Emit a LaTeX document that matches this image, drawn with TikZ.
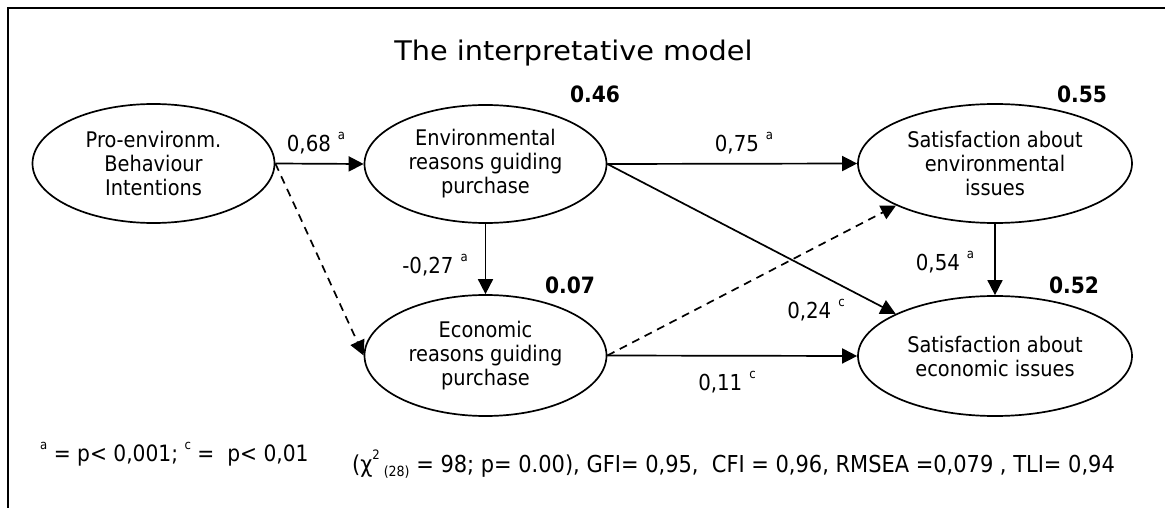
\documentclass[tikz,border=0pt]{standalone}
\usepackage{fontspec}
\setmainfont{DejaVu Sans Condensed}
\newfontfamily\titlefont{DejaVu Sans}
\usepackage{graphicx}
\usetikzlibrary{shapes.geometric,arrows.meta}
\newcommand\sps[1]{\raisebox{0.55em}{\fontsize{13}{13}\selectfont #1}}
\newcommand\sbs[1]{\raisebox{-0.15em}{\fontsize{14}{14}\selectfont #1}}
\begin{document}
\begin{tikzpicture}[x=1pt,y=-1pt,
  latent/.style={ellipse,draw,line width=1.7pt,inner sep=0pt,align=center,
    font=\fontsize{21.5}{24}\selectfont},
  path/.style={line width=1.7pt,-{Triangle[length=15pt,width=15pt]}},
  dpath/.style={path,dash pattern=on 8pt off 6pt},
  lab/.style={font=\fontsize{22}{24}\selectfont,inner sep=0pt},
  rsq/.style={font=\fontsize{22.5}{24}\selectfont\bfseries,inner sep=0pt},
  note/.style={font=\fontsize{22.5}{24}\selectfont,inner sep=0pt},
  frame/.style={line width=2pt}]
\useasboundingbox (0,0) rectangle (1165,508);
\draw[frame] (7.5,508) -- (7.5,8) -- (1166,8);

\node[inner sep=0pt,anchor=base] (title) at (573.5,61)
  {\scalebox{1.065}[1]{\titlefont\fontsize{27}{30}\selectfont The interpretative model}};

\node[latent,minimum width=242pt,minimum height=119pt] (pro) at (153.5,163.5)
  {Pro-environm.\\Behaviour\\Intentions};
\node[latent,minimum width=242pt,minimum height=118pt] (env) at (485.5,164)
  {Environmental\\reasons guiding\\purchase};
\node[latent,minimum width=242pt,minimum height=121pt] (eco) at (485.5,355.5)
  {Economic\\reasons guiding\\purchase};
\node[latent,minimum width=274pt,minimum height=119pt] (senv) at (995,163.5)
  {Satisfaction about\\environmental\\issues};
\node[latent,minimum width=274pt,minimum height=120pt] (seco) at (995,356)
  {Satisfaction about\\economic issues};

\node[rsq] (r1) at (595,94) {0.46};
\node[rsq] (r2) at (1082,94) {0.55};
\node[rsq] (r3) at (570,285) {0.07};
\node[rsq] (r4) at (1074,285) {0.52};

\draw[path] (pro.east) -- (env.west);
\draw[dpath] (pro.east) -- (eco.west);
\draw[path] (env.south) -- (eco.north);
\draw[path] (env.east) -- (senv.west);
\draw[path] (env.east) -- (seco.157);
\draw[dpath] (eco.east) -- (senv.203);
\draw[path] (eco.east) -- (seco.west);
\draw[path] (senv.south) -- (seco.north);

\node[lab] (l1) at (316,143) {0,68\hspace{7pt}\sps{a}};
\node[lab] (l2) at (744,143) {0,75\hspace{7pt}\sps{a}};
\node[lab] (l3) at (435,265) {-0,27\hspace{7pt}\sps{a}};
\node[lab] (l4) at (945,262) {0,54\hspace{7pt}\sps{a}};
\node[lab] (l5) at (816,310) {0,24\hspace{7pt}\sps{c}};
\node[lab] (l6) at (727,382) {0,11\hspace{7pt}\sps{c}};

\node[note,anchor=west] (leg) at (40,454)
  {\sps{a} = p< 0,001; \sps{c} =\ \ p< 0,01};
\node[note,anchor=west,font=\fontsize{23.3}{25}\selectfont] (fit) at (352,464)
  {(χ\sps{2}\,\sbs{(28)} = 98; p= 0.00), GFI= 0,95,\ \ CFI = 0,96, RMSEA =0,079 , TLI= 0,94};
\end{tikzpicture}
\end{document}
